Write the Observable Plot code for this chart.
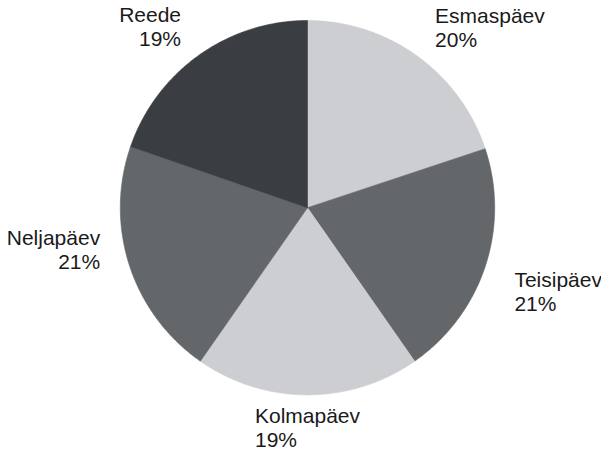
<!DOCTYPE html>
<html>
<head>
<meta charset="utf-8">
<script src="https://cdn.jsdelivr.net/npm/d3@7"></script>
<script src="https://cdn.jsdelivr.net/npm/@observablehq/plot@0.6"></script>
<style>
  html, body { margin: 0; padding: 0; background: #ffffff; }
  #chart svg { display: block; }
</style>
</head>
<body>
<div id="chart"></div>
<script>
// ---- data ----
const days = ["Esmaspäev", "Teisipäev", "Kolmapäev", "Neljapäev", "Reede"];
const shares = [19.9, 20.4, 19.4, 20.6, 19.7];
const pctLabels = ["20%", "21%", "19%", "21%", "19%"];
const sliceColors = ["#cdced2", "#63676a", "#cdced2", "#63676a", "#3a3e42"];

// ---- layout ----
const W = 601, H = 453;
const cx = 307, cy = 207.2, R = 187.2;   // pie centre / radius in px
const labelRx = 218 / R, labelRy = 198 / R; // label ring (unit coords)
const fontSize = 21, lineHeightPx = 24;
const fontFamily = "'Liberation Sans', Arial, Helvetica, sans-serif";

const arcs = d3.pie().sort(null).value(d => d)(shares);

// polygon vertices for each slice, in unit coordinates (y up)
const rows = [];
arcs.forEach((a, i) => {
  const day = days[i];
  rows.push({day, x: 0, y: 0});
  const n = Math.max(2, Math.ceil((a.endAngle - a.startAngle) / (Math.PI / 360)));
  for (let k = 0; k <= n; k++) {
    const t = a.startAngle + (a.endAngle - a.startAngle) * k / n;
    rows.push({day, x: Math.sin(t), y: Math.cos(t)});
  }
  rows.push({day, x: 0, y: 0});
});

// text measuring for centred blocks
const ctx = document.createElement("canvas").getContext("2d");
ctx.font = `${fontSize}px ${fontFamily}`;

const textMarks = arcs.map((a, i) => {
  const mid = (a.startAngle + a.endAngle) / 2;
  const deg = (mid * 180 / Math.PI + 360) % 360;
  const s = Math.sin(mid), c = Math.cos(mid);
  let x = labelRx * s, y = labelRy * c;
  const text = days[i] + "\n" + pctLabels[i];
  let textAnchor, lineAnchor;
  if (deg < 22.5 || deg >= 337.5) { textAnchor = "start"; lineAnchor = "bottom"; }
  else if (deg < 67.5) { textAnchor = "start"; lineAnchor = "bottom"; }
  else if (deg < 112.5) { textAnchor = "start"; lineAnchor = "top"; }    // right side: box follows clockwise tangent (down)
  else if (deg < 157.5) { textAnchor = "start"; lineAnchor = "top"; }
  else if (deg < 202.5) { textAnchor = "start"; lineAnchor = "top"; }
  else if (deg < 247.5) { textAnchor = "end"; lineAnchor = "top"; }
  else if (deg < 292.5) { textAnchor = "end"; lineAnchor = "bottom"; }  // left side: box follows clockwise tangent (up)
  else { textAnchor = "end"; lineAnchor = "bottom"; }
  if ((deg < 22.5 || deg >= 337.5) || (deg >= 157.5 && deg < 202.5)) {
    const w = Math.max(ctx.measureText(days[i]).width, ctx.measureText(pctLabels[i]).width);
    x -= (w / 2) / R;
  }
  return Plot.text([{x, y, text}], {
    x: "x", y: "y", text: "text",
    textAnchor, lineAnchor,
    lineHeight: lineHeightPx / fontSize,
    fontSize, fill: "#1a1a1a"
  });
});

const chart = Plot.plot({
  width: W,
  height: H,
  margin: 0,
  x: {domain: [-cx / R, (W - cx) / R], axis: null},
  y: {domain: [-(H - cy) / R, cy / R], axis: null},
  color: {domain: days, range: sliceColors},
  style: {fontFamily, background: "#ffffff", overflow: "visible"},
  marks: [
    Plot.line(rows, {
      x: "x", y: "y", z: "day",
      fill: "day", stroke: "day", strokeWidth: 0.6,
      curve: "linear"
    }),
    ...textMarks
  ]
});
document.getElementById("chart").appendChild(chart);
</script>
</body>
</html>
